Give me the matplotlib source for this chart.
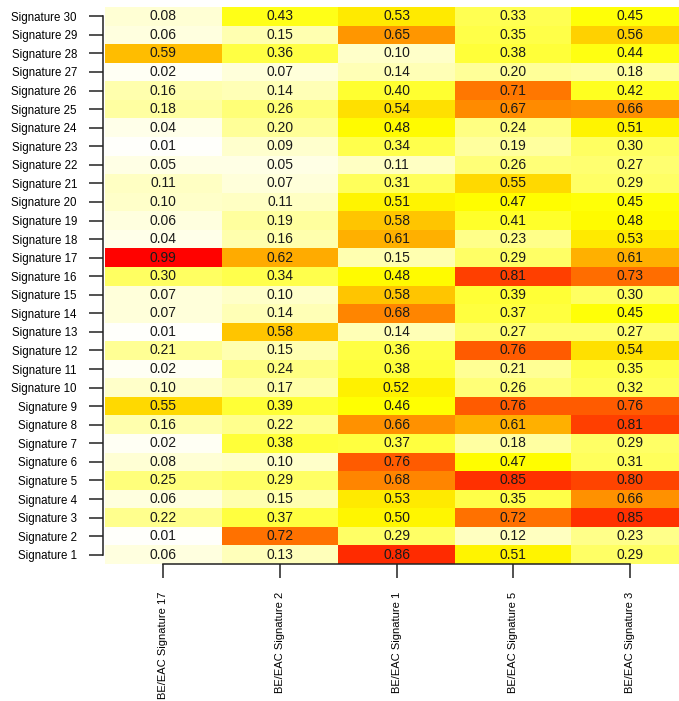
import matplotlib
matplotlib.use("Agg")
import matplotlib.pyplot as plt
from matplotlib.colors import LinearSegmentedColormap
import numpy as np

plt.rcParams["font.family"] = ["Liberation Sans", "DejaVu Sans"]

# ── Data (rows = Signature 1..30) ────────────────────────────────────────────
row_labels = [f"Signature {i}" for i in range(1, 31)]
col_labels = ["BE/EAC Signature 17", "BE/EAC Signature 2", "BE/EAC Signature 1",
              "BE/EAC Signature 5", "BE/EAC Signature 3"]

be_sig17 = [0.06, 0.01, 0.22, 0.06, 0.25, 0.08, 0.02, 0.16, 0.55, 0.10,
            0.02, 0.21, 0.01, 0.07, 0.07, 0.30, 0.99, 0.04, 0.06, 0.10,
            0.11, 0.05, 0.01, 0.04, 0.18, 0.16, 0.02, 0.59, 0.06, 0.08]
be_sig2 = [0.13, 0.72, 0.37, 0.15, 0.29, 0.10, 0.38, 0.22, 0.39, 0.17,
           0.24, 0.15, 0.58, 0.14, 0.10, 0.34, 0.62, 0.16, 0.19, 0.11,
           0.07, 0.05, 0.09, 0.20, 0.26, 0.14, 0.07, 0.36, 0.15, 0.43]
be_sig1 = [0.86, 0.29, 0.50, 0.53, 0.68, 0.76, 0.37, 0.66, 0.46, 0.52,
           0.38, 0.36, 0.14, 0.68, 0.58, 0.48, 0.15, 0.61, 0.58, 0.51,
           0.31, 0.11, 0.34, 0.48, 0.54, 0.40, 0.14, 0.10, 0.65, 0.53]
be_sig5 = [0.51, 0.12, 0.72, 0.35, 0.85, 0.47, 0.18, 0.61, 0.76, 0.26,
           0.21, 0.76, 0.27, 0.37, 0.39, 0.81, 0.29, 0.23, 0.41, 0.47,
           0.55, 0.26, 0.19, 0.24, 0.67, 0.71, 0.20, 0.38, 0.35, 0.33]
be_sig3 = [0.29, 0.23, 0.85, 0.66, 0.80, 0.31, 0.29, 0.81, 0.76, 0.32,
           0.35, 0.54, 0.27, 0.45, 0.30, 0.73, 0.61, 0.53, 0.48, 0.45,
           0.29, 0.27, 0.30, 0.51, 0.66, 0.42, 0.18, 0.44, 0.56, 0.45]

# ── Colour scale: white -> yellow -> orange -> red ──────────────────────────
heat = LinearSegmentedColormap.from_list("heat_rev", [
    (0.00, "#FFFFFF"), (0.10, "#FFFFC8"), (0.20, "#FFFF98"),
    (0.30, "#FFFF60"), (0.40, "#FFFF30"), (0.46, "#FFFF00"),
    (0.52, "#FFF200"), (0.55, "#FFD800"), (0.60, "#FFB800"),
    (0.66, "#FF9000"), (0.72, "#FF7200"), (0.80, "#FF4400"),
    (0.86, "#FF2C00"), (1.00, "#FF0000"),
])

mat = np.array([be_sig17, be_sig2, be_sig1, be_sig5, be_sig3]).T  # 30 x 5

fig = plt.figure(figsize=(6.79, 7.01), dpi=100)
ax = fig.add_axes([105 / 679, 1 - 564 / 701, 583 / 679, 557 / 701])

ax.pcolormesh(np.arange(6), np.arange(31), mat, cmap=heat, vmin=0, vmax=1)
ax.set_xlim(0, 5)
ax.set_ylim(0, 30)

for r in range(mat.shape[0]):
    for c in range(mat.shape[1]):
        ax.text(c + 0.5, r + 0.5, f"{mat[r, c]:.2f}", ha="center", va="center",
                fontsize=10, color="#1a1a1a")

# R-style axes: lines span first to last tick
for side in ("top", "right"):
    ax.spines[side].set_visible(False)
ax.spines["left"].set_position(("outward", 1.2))
ax.spines["left"].set_bounds(0.5, 29.5)
ax.spines["bottom"].set_bounds(0.5, 4.5)
for side in ("left", "bottom"):
    ax.spines[side].set_linewidth(1.1)
    ax.spines[side].set_color("#222222")

ax.set_yticks(np.arange(30) + 0.5)
ax.set_yticklabels(row_labels, fontsize=8.3)
ax.set_xticks(np.arange(5) + 0.5)
ax.set_xticklabels(col_labels, rotation=90, fontsize=8)
ax.tick_params(axis="y", length=10, width=1.1, pad=9, color="#222222")
ax.tick_params(axis="x", length=10, width=1.1, pad=10, color="#222222")

fig.savefig("out.png", dpi=100)
